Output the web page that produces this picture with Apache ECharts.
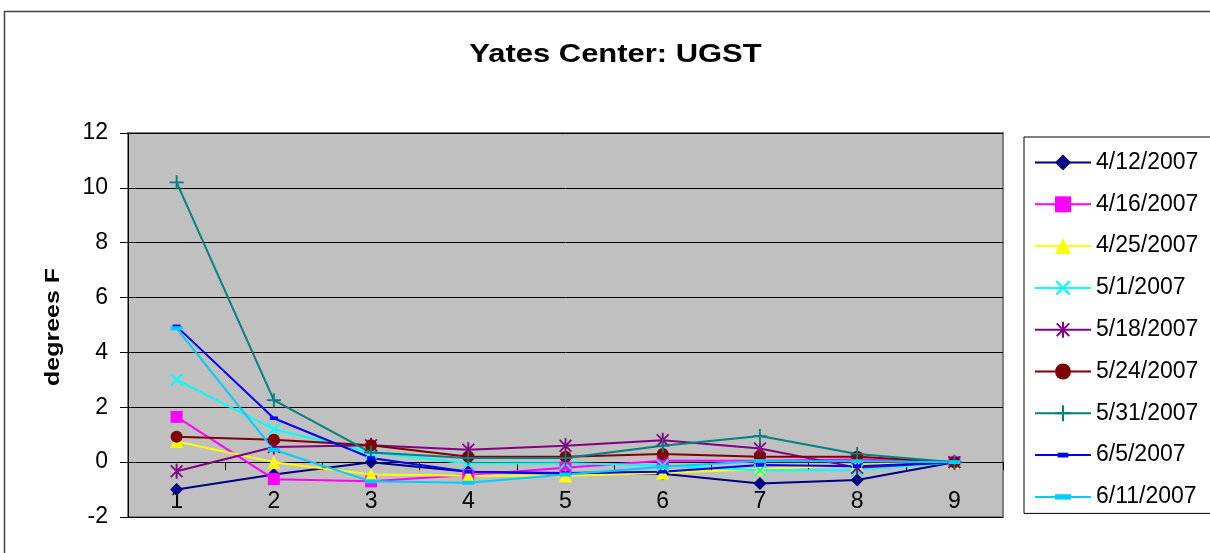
<!DOCTYPE html>
<html>
<head>
<meta charset="utf-8">
<title>Yates Center: UGST</title>
<script src="https://cdn.jsdelivr.net/npm/echarts@6/dist/echarts.min.js"></script>
<style>
  html, body { margin: 0; padding: 0; background: #fff; }
  #chart { width: 1210px; height: 553px; }
</style>
</head>
<body>
<div id="chart"></div>
<script>
// Depth positions along the x axis
const categories = ['1', '2', '3', '4', '5', '6', '7', '8', '9'];

// Temperature readings (degrees F), one array per survey date
const d0412 = [-1.0, -0.45, 0.0, -0.35, -0.42, -0.42, -0.78, -0.65, 0.0];
const d0416 = [1.65, -0.62, -0.7, -0.47, -0.2, 0.05, 0.05, 0.1, 0.0];
const d0425 = [0.75, 0.0, -0.45, -0.5, -0.5, -0.4, -0.25, -0.1, 0.0];
const d0501 = [3.0, 1.2, 0.35, -0.05, -0.04, -0.12, -0.3, -0.3, 0.0];
const d0518 = [-0.33, 0.55, 0.62, 0.45, 0.6, 0.8, 0.5, -0.2, 0.0];
const d0524 = [0.93, 0.82, 0.62, 0.2, 0.2, 0.3, 0.2, 0.2, 0.0];
const d0531 = [10.2, 2.26, 0.35, 0.15, 0.15, 0.6, 0.95, 0.3, 0.0];
const d0605 = [4.95, 1.6, 0.15, -0.35, -0.4, -0.35, -0.1, -0.15, 0.0];
const d0611 = [4.88, 0.45, -0.7, -0.75, -0.45, -0.17, 0.04, 0.03, 0.0];

// Y axis ticks
const yMin = -2;
const yMax = 12;
const yStep = 2;

const seriesNames = ['4/12/2007', '4/16/2007', '4/25/2007', '5/1/2007', '5/18/2007',
                     '5/24/2007', '5/31/2007', '6/5/2007', '6/11/2007'];
const seriesData = [d0412, d0416, d0425, d0501, d0518, d0524, d0531, d0605, d0611];

// Marker glyphs, each drawn inside a 12x12 box so legend icons keep their shape
const X_PATH = 'path://M-6,-6M6,6' +
  'M-4.43,-5.57L5.57,4.43L4.43,5.57L-5.57,-4.43Z' +
  'M-5.57,4.43L4.43,-5.57L5.57,-4.43L-4.43,5.57Z';
const PLUS_PATH = 'path://M-0.8,-6L0.8,-6L0.8,6L-0.8,6Z' +
  'M-6,-0.8L6,-0.8L6,0.8L-6,0.8Z';
const STAR_PATH = 'path://M-6,-6M6,6' +
  'M-0.75,-6L0.75,-6L0.75,6L-0.75,6Z' +
  'M-4.2,-5.2L5.2,4.2L4.2,5.2L-5.2,-4.2Z' +
  'M-5.2,4.2L4.2,-5.2L5.2,-4.2L-4.2,5.2Z';
const SHORT_DASH = 'path://M-6,-6M6,6M-4,-1.8L4,-1.8L4,1.8L-4,1.8Z';
const LONG_DASH = 'path://M-6,-6M6,6M-6.5,-2L6.5,-2L6.5,2L-6.5,2Z';

const styles = [
  { color: '#000080', symbol: 'diamond', size: 13 },
  { color: '#FF00FF', symbol: 'rect', size: 12 },
  { color: '#FFFF00', symbol: 'triangle', size: 13 },
  { color: '#00FFFF', symbol: X_PATH, size: 14 },
  { color: '#800080', symbol: STAR_PATH, size: 15 },
  { color: '#800000', symbol: 'circle', size: 12 },
  { color: '#008080', symbol: PLUS_PATH, size: 14 },
  { color: '#0000FF', symbol: SHORT_DASH, size: 12 },
  { color: '#00CCFF', symbol: LONG_DASH, size: 12 }
];

const FONT = '"Liberation Sans", Arial, sans-serif';

const series = seriesNames.map((name, i) => ({
  name: name,
  type: 'line',
  data: seriesData[i],
  symbol: styles[i].symbol,
  symbolSize: styles[i].size,
  showAllSymbol: true,
  lineStyle: { color: styles[i].color, width: 2 },
  itemStyle: { color: styles[i].color, borderWidth: 0 },
  emphasis: { disabled: true },
  animation: false
}));

const chart = echarts.init(document.getElementById('chart'), null, { renderer: 'canvas' });

chart.setOption({
  backgroundColor: '#ffffff',
  animation: false,
  graphic: [
    {
      type: 'rect',
      shape: { x: 4.5, y: 11.5, width: 1400, height: 800 },
      style: { fill: 'none', stroke: '#404040', lineWidth: 1.5 },
      silent: true
    },
    {
      type: 'text',
      x: 615.5,
      y: 55,
      scaleX: 1.19,
      style: {
        text: 'Yates Center: UGST',
        font: 'bold 26px ' + FONT,
        fill: '#000',
        align: 'center',
        verticalAlign: 'middle'
      },
      silent: true
    },
    {
      type: 'text',
      x: 53,
      y: 327,
      rotation: Math.PI / 2,
      scaleX: 1.19,
      style: {
        text: 'degrees F',
        font: 'bold 21px ' + FONT,
        fill: '#000',
        align: 'center',
        verticalAlign: 'middle'
      },
      silent: true
    }
  ],
  grid: {
    left: 128,
    right: 207,
    top: 133,
    bottom: 36,
    containLabel: false,
    outerBoundsMode: 'none',
    show: true,
    backgroundColor: '#C0C0C0',
    borderColor: '#808080',
    borderWidth: 2
  },
  legend: {
    orient: 'vertical',
    left: 1024,
    top: 137,
    padding: [14, 40, 5, 10],
    itemWidth: 56,
    itemHeight: 20,
    itemGap: 18.8,
    borderColor: '#000',
    borderWidth: 1,
    backgroundColor: '#fff',
    selectedMode: false,
    textStyle: { fontFamily: FONT, fontSize: 23, color: '#000' },
    data: seriesNames
  },
  xAxis: {
    type: 'category',
    data: categories,
    boundaryGap: true,
    axisLine: { show: true, onZero: true, lineStyle: { color: '#000', width: 1 } },
    axisTick: { show: true, length: 8, lineStyle: { color: '#000', width: 1 } },
    axisLabel: { margin: -27, fontSize: 23, fontFamily: FONT, color: '#000' },
    splitLine: { show: false }
  },
  yAxis: {
    type: 'value',
    min: yMin,
    max: yMax,
    interval: yStep,
    axisLine: { show: true, lineStyle: { color: '#000', width: 1 } },
    axisTick: { show: true, length: 8, lineStyle: { color: '#000', width: 1 } },
    axisLabel: { margin: 20, fontSize: 23, fontFamily: FONT, color: '#000' },
    splitLine: { show: true, lineStyle: { color: '#000', width: 1 } }
  },
  series: series
});
</script>
</body>
</html>
